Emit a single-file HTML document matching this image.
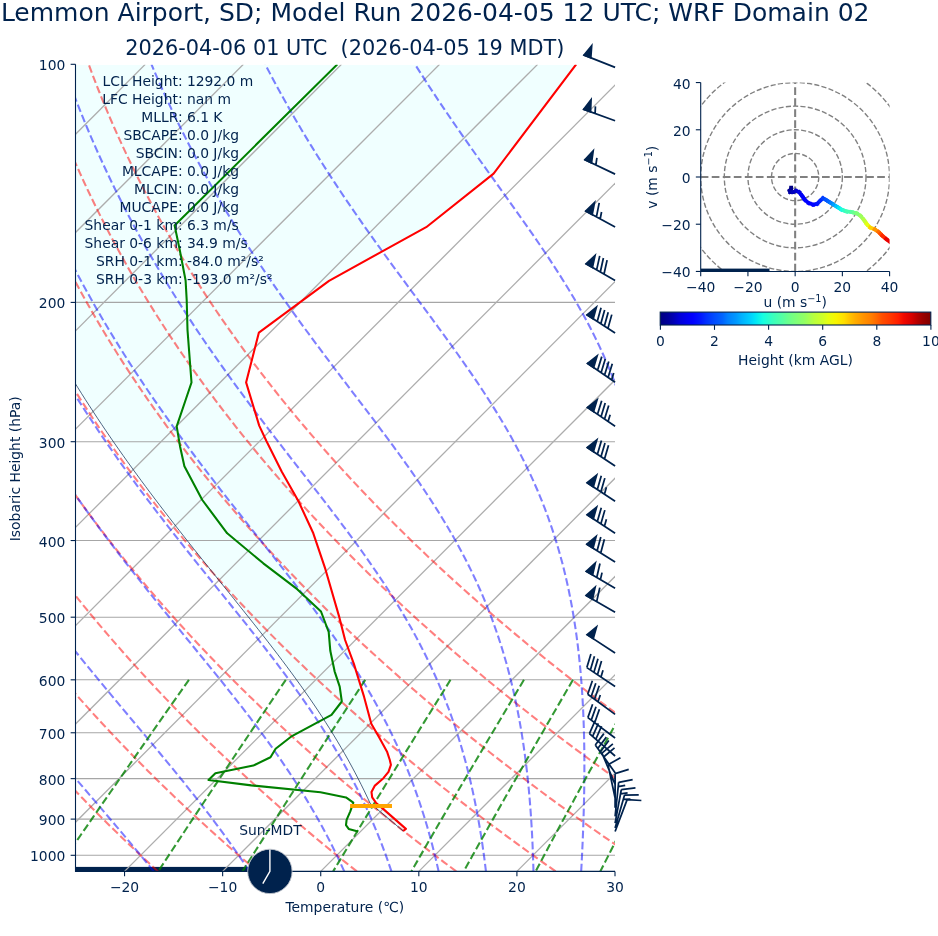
<!DOCTYPE html>
<html lang="en"><head><meta charset="utf-8"><title>Skew-T Lemmon Airport, SD</title><style>html,body{margin:0;padding:0;background:#fff}body{width:938px;height:936px;overflow:hidden}svg{display:block;will-change:transform}</style></head><body>
<svg width="938" height="936" viewBox="0 0 938 936" font-family="'DejaVu Sans', 'Liberation Sans', sans-serif" fill="#00224d">
<rect width="938" height="936" fill="#fff"/>
<defs><clipPath id="ca"><rect x="75.5" y="64.8" width="539.5" height="806.6"/></clipPath>
<clipPath id="cf"><rect x="75.5" y="64.9" width="539.5" height="806.5"/></clipPath>
<clipPath id="ch"><rect x="700.7" y="82.55" width="188.9" height="188.9"/></clipPath>
<linearGradient id="jet" x1="0" x2="1" y1="0" y2="0">
<stop offset="0" stop-color="#000080"/>
<stop offset="0.03" stop-color="#00009b"/>
<stop offset="0.05" stop-color="#0000b6"/>
<stop offset="0.07" stop-color="#0000d6"/>
<stop offset="0.1" stop-color="#0000f1"/>
<stop offset="0.12" stop-color="#0000ff"/>
<stop offset="0.15" stop-color="#0018ff"/>
<stop offset="0.17" stop-color="#0030ff"/>
<stop offset="0.2" stop-color="#004cff"/>
<stop offset="0.23" stop-color="#0064ff"/>
<stop offset="0.25" stop-color="#0080ff"/>
<stop offset="0.28" stop-color="#0098ff"/>
<stop offset="0.3" stop-color="#00b0ff"/>
<stop offset="0.33" stop-color="#00ccff"/>
<stop offset="0.35" stop-color="#00e4f8"/>
<stop offset="0.38" stop-color="#16ffe1"/>
<stop offset="0.4" stop-color="#29ffce"/>
<stop offset="0.42" stop-color="#3cffba"/>
<stop offset="0.45" stop-color="#53ffa4"/>
<stop offset="0.47" stop-color="#66ff90"/>
<stop offset="0.5" stop-color="#7dff7a"/>
<stop offset="0.53" stop-color="#90ff66"/>
<stop offset="0.55" stop-color="#a4ff53"/>
<stop offset="0.57" stop-color="#baff3c"/>
<stop offset="0.6" stop-color="#ceff29"/>
<stop offset="0.62" stop-color="#e4ff13"/>
<stop offset="0.65" stop-color="#f8f500"/>
<stop offset="0.68" stop-color="#ffde00"/>
<stop offset="0.7" stop-color="#ffc400"/>
<stop offset="0.72" stop-color="#ffae00"/>
<stop offset="0.75" stop-color="#ff9400"/>
<stop offset="0.78" stop-color="#ff7e00"/>
<stop offset="0.8" stop-color="#ff6800"/>
<stop offset="0.82" stop-color="#ff4e00"/>
<stop offset="0.85" stop-color="#ff3800"/>
<stop offset="0.88" stop-color="#ff1e00"/>
<stop offset="0.9" stop-color="#f10800"/>
<stop offset="0.93" stop-color="#d60000"/>
<stop offset="0.95" stop-color="#b60000"/>
<stop offset="0.97" stop-color="#9b0000"/>
<stop offset="1" stop-color="#800000"/>
</linearGradient></defs>
<g clip-path="url(#ca)" fill="none">
<path clip-path="url(#cf)" d="M403.2 831L370.1 803.3L367.22 797.09L364.25 790.88L361.2 784.67L358.06 778.46L354.83 772.25L351.51 766.04L348.1 759.83L344.6 753.62L341.01 747.41L337.34 741.2L333.58 734.99L329.73 728.78L325.79 722.57L321.78 716.36L317.68 710.15L313.5 703.94L309.24 697.73L304.91 691.52L300.51 685.31L296.03 679.1L291.5 672.89L286.9 666.68L282.25 660.47L277.54 654.26L272.78 648.05L267.98 641.84L263.14 635.63L258.26 629.42L253.36 623.21L248.42 617L243.46 610.79L238.49 604.58L233.5 598.37L228.51 592.16L223.51 585.95L218.5 579.74L213.51 573.53L208.52 567.32L203.54 561.11L198.57 554.9L193.62 548.69L188.69 542.48L183.79 536.27L178.91 530.06L174.06 523.85L169.24 517.64L164.45 511.43L159.69 505.22L154.98 499.01L150.3 492.8L145.66 486.59L141.06 480.38L136.51 474.17L131.99 467.96L127.53 461.75L123.1 455.54L118.72 449.33L114.39 443.12L110.11 436.91L105.87 430.69L101.68 424.48L97.54 418.27L93.45 412.06L89.41 405.85L85.42 399.64L81.47 393.43L77.58 387.22L73.73 381.01L69.94 374.8L66.19 368.59L62.5 362.38L58.85 356.17L55.25 349.96L51.7 343.75L48.2 337.54L44.75 331.33L41.35 325.12L38 318.91L34.69 312.7L31.44 306.49L28.23 300.28L25.07 294.07L21.96 287.86L18.89 281.65L15.88 275.44L12.91 269.23L9.99 263.02L7.11 256.81L4.28 250.6L1.5 244.39L-1.24 238.18L-3.93 231.97L-6.57 225.76L-9.17 219.55L-11.73 213.34L-14.24 207.13L-16.7 200.92L-19.12 194.71L-21.5 188.5L-23.83 182.29L-26.12 176.08L-28.36 169.87L-30.56 163.66L-32.72 157.45L-34.83 151.24L-36.9 145.03L-38.93 138.82L-40.92 132.61L-42.86 126.4L-44.76 120.19L-46.62 113.98L-48.44 107.77L-50.22 101.56L-51.95 95.35L-53.65 89.14L-55.31 82.93L-56.92 76.72L-58.49 70.51L-60.03 64.3L-65.03 59.3L579.7 59.3L576.2 64.3L493.6 173.6L426.2 227.2L380 252.6L329 280.9L258.9 332.6L246.1 382.4L259.2 425.6L266.4 441L281.8 471.8L298.5 501.3L313.3 533.3L325.4 569.2L339.5 617.9L345.1 640L353.8 663.6L364.1 696.9L371.3 723.8L379.5 737.9L387.2 752.1L389.8 760L390.9 764.8L388.5 771.8L383.4 778.2L374.9 785.6L371.5 792.1L372.2 797.4L375.9 802.7L383.4 809.1L405.9 828.9L403.2 831Z" fill="#f0ffff" stroke="none"/>
<rect x="75.5" y="866.9" width="194.5" height="6" fill="#00224d"/>
<path d="M75.5 302.41H615" stroke="#a6a6a6" stroke-width="1.1"/>
<path d="M75.5 441.7H615" stroke="#a6a6a6" stroke-width="1.1"/>
<path d="M75.5 540.53H615" stroke="#a6a6a6" stroke-width="1.1"/>
<path d="M75.5 617.19H615" stroke="#a6a6a6" stroke-width="1.1"/>
<path d="M75.5 679.82H615" stroke="#a6a6a6" stroke-width="1.1"/>
<path d="M75.5 732.77H615" stroke="#a6a6a6" stroke-width="1.1"/>
<path d="M75.5 778.64H615" stroke="#a6a6a6" stroke-width="1.1"/>
<path d="M75.5 819.11H615" stroke="#a6a6a6" stroke-width="1.1"/>
<path d="M75.5 855.3H615" stroke="#a6a6a6" stroke-width="1.1"/>
<path d="M-954.45 871.4L-148.97 64.3" stroke="#adadad" stroke-width="1.3"/>
<path d="M-856.36 871.4L-50.88 64.3" stroke="#adadad" stroke-width="1.3"/>
<path d="M-758.27 871.4L47.21 64.3" stroke="#adadad" stroke-width="1.3"/>
<path d="M-660.18 871.4L145.3 64.3" stroke="#adadad" stroke-width="1.3"/>
<path d="M-562.09 871.4L243.39 64.3" stroke="#adadad" stroke-width="1.3"/>
<path d="M-464 871.4L341.49 64.3" stroke="#adadad" stroke-width="1.3"/>
<path d="M-365.91 871.4L439.58 64.3" stroke="#adadad" stroke-width="1.3"/>
<path d="M-267.82 871.4L537.67 64.3" stroke="#adadad" stroke-width="1.3"/>
<path d="M-169.73 871.4L635.76 64.3" stroke="#adadad" stroke-width="1.3"/>
<path d="M-71.64 871.4L733.85 64.3" stroke="#adadad" stroke-width="1.3"/>
<path d="M26.45 871.4L831.94 64.3" stroke="#adadad" stroke-width="1.3"/>
<path d="M124.55 871.4L930.03 64.3" stroke="#adadad" stroke-width="1.3"/>
<path d="M222.64 871.4L1028.12 64.3" stroke="#adadad" stroke-width="1.3"/>
<path d="M320.73 871.4L1126.21 64.3" stroke="#adadad" stroke-width="1.3"/>
<path d="M418.82 871.4L1224.3 64.3" stroke="#adadad" stroke-width="1.3"/>
<path d="M516.91 871.4L1322.39 64.3" stroke="#adadad" stroke-width="1.3"/>
<path d="M615 871.4L1420.49 64.3" stroke="#adadad" stroke-width="1.3"/>
<path d="M-40.81 871.4L-49.17 862.33L-57.41 853.26L-65.51 844.19L-73.49 835.13L-81.34 826.06L-89.06 816.99L-96.65 807.92L-104.12 798.85L-111.47 789.78L-118.69 780.71L-125.79 771.65L-132.77 762.58L-139.63 753.51L-146.37 744.44L-152.99 735.37L-159.49 726.3L-165.88 717.23L-172.15 708.17L-178.3 699.1L-184.34 690.03L-190.27 680.96L-196.08 671.89L-201.79 662.82L-207.38 653.76L-212.86 644.69L-218.23 635.62L-223.5 626.55L-228.65 617.48L-233.7 608.41L-238.65 599.34L-243.49 590.28L-248.22 581.21L-252.85 572.14L-257.38 563.07L-261.81 554L-266.13 544.93L-270.36 535.86L-274.48 526.8L-278.51 517.73L-282.43 508.66L-286.26 499.59L-290 490.52L-293.63 481.45L-297.18 472.38L-300.62 463.32L-303.98 454.25L-307.24 445.18L-310.4 436.11L-313.48 427.04L-316.46 417.97L-319.36 408.9L-322.16 399.84L-324.88 390.77L-327.51 381.7L-330.04 372.63L-332.5 363.56L-334.86 354.49L-337.14 345.42L-339.34 336.36L-341.45 327.29L-343.47 318.22L-345.42 309.15L-347.28 300.08L-349.06 291.01L-350.75 281.94L-352.37 272.88L-353.91 263.81L-355.36 254.74L-356.74 245.67L-358.04 236.6L-359.26 227.53L-360.41 218.47L-361.47 209.4L-362.47 200.33L-363.38 191.26L-364.22 182.19L-364.99 173.12L-365.68 164.05L-366.3 154.99L-366.85 145.92L-367.33 136.85L-367.73 127.78L-368.06 118.71L-368.33 109.64L-368.52 100.57L-368.64 91.51L-368.7 82.44L-368.68 73.37L-368.6 64.3M58.61 871.4L49.49 862.33L40.52 853.26L31.68 844.19L22.97 835.13L14.4 826.06L5.96 816.99L-2.35 807.92L-10.53 798.85L-18.58 789.78L-26.5 780.71L-34.29 771.65L-41.96 762.58L-49.5 753.51L-56.92 744.44L-64.21 735.37L-71.38 726.3L-78.43 717.23L-85.35 708.17L-92.16 699.1L-98.85 690.03L-105.42 680.96L-111.87 671.89L-118.21 662.82L-124.43 653.76L-130.53 644.69L-136.52 635.62L-142.4 626.55L-148.17 617.48L-153.82 608.41L-159.37 599.34L-164.8 590.28L-170.13 581.21L-175.34 572.14L-180.46 563.07L-185.46 554L-190.36 544.93L-195.15 535.86L-199.84 526.8L-204.43 517.73L-208.91 508.66L-213.29 499.59L-217.58 490.52L-221.76 481.45L-225.84 472.38L-229.82 463.32L-233.71 454.25L-237.5 445.18L-241.19 436.11L-244.78 427.04L-248.28 417.97L-251.69 408.9L-255 399.84L-258.22 390.77L-261.35 381.7L-264.39 372.63L-267.33 363.56L-270.19 354.49L-272.95 345.42L-275.63 336.36L-278.22 327.29L-280.72 318.22L-283.14 309.15L-285.46 300.08L-287.71 291.01L-289.87 281.94L-291.94 272.88L-293.93 263.81L-295.84 254.74L-297.66 245.67L-299.41 236.6L-301.07 227.53L-302.65 218.47L-304.15 209.4L-305.57 200.33L-306.92 191.26L-308.18 182.19L-309.37 173.12L-310.48 164.05L-311.52 154.99L-312.48 145.92L-313.36 136.85L-314.17 127.78L-314.91 118.71L-315.57 109.64L-316.16 100.57L-316.67 91.51L-317.12 82.44L-317.49 73.37L-317.79 64.3M158.02 871.4L148.16 862.33L138.44 853.26L128.87 844.19L119.43 835.13L110.13 826.06L100.97 816.99L91.95 807.92L83.06 798.85L74.31 789.78L65.69 780.71L57.2 771.65L48.85 762.58L40.63 753.51L32.53 744.44L24.57 735.37L16.73 726.3L9.02 717.23L1.44 708.17L-6.02 699.1L-13.36 690.03L-20.57 680.96L-27.66 671.89L-34.63 662.82L-41.47 653.76L-48.2 644.69L-54.81 635.62L-61.3 626.55L-67.68 617.48L-73.94 608.41L-80.08 599.34L-86.11 590.28L-92.03 581.21L-97.84 572.14L-103.53 563.07L-109.11 554L-114.58 544.93L-119.95 535.86L-125.2 526.8L-130.35 517.73L-135.39 508.66L-140.32 499.59L-145.15 490.52L-149.88 481.45L-154.5 472.38L-159.02 463.32L-163.44 454.25L-167.75 445.18L-171.97 436.11L-176.09 427.04L-180.1 417.97L-184.02 408.9L-187.84 399.84L-191.57 390.77L-195.2 381.7L-198.73 372.63L-202.17 363.56L-205.51 354.49L-208.76 345.42L-211.92 336.36L-214.99 327.29L-217.97 318.22L-220.85 309.15L-223.65 300.08L-226.36 291.01L-228.98 281.94L-231.51 272.88L-233.95 263.81L-236.31 254.74L-238.58 245.67L-240.77 236.6L-242.87 227.53L-244.89 218.47L-246.83 209.4L-248.68 200.33L-250.45 191.26L-252.14 182.19L-253.75 173.12L-255.28 164.05L-256.73 154.99L-258.1 145.92L-259.4 136.85L-260.61 127.78L-261.75 118.71L-262.81 109.64L-263.79 100.57L-264.7 91.51L-265.54 82.44L-266.3 73.37L-266.99 64.3M257.43 871.4L246.83 862.33L236.37 853.26L226.06 844.19L215.89 835.13L205.87 826.06L195.99 816.99L186.25 807.92L176.65 798.85L167.2 789.78L157.88 780.71L148.7 771.65L139.66 762.58L130.76 753.51L121.99 744.44L113.35 735.37L104.84 726.3L96.47 717.23L88.23 708.17L80.12 699.1L72.14 690.03L64.28 680.96L56.56 671.89L48.96 662.82L41.48 653.76L34.13 644.69L26.9 635.62L19.79 626.55L12.81 617.48L5.94 608.41L-0.8 599.34L-7.43 590.28L-13.94 581.21L-20.33 572.14L-26.6 563.07L-32.76 554L-38.81 544.93L-44.74 535.86L-50.56 526.8L-56.27 517.73L-61.87 508.66L-67.35 499.59L-72.73 490.52L-78 481.45L-83.16 472.38L-88.22 463.32L-93.17 454.25L-98.01 445.18L-102.75 436.11L-107.39 427.04L-111.92 417.97L-116.35 408.9L-120.68 399.84L-124.91 390.77L-129.04 381.7L-133.07 372.63L-137 363.56L-140.84 354.49L-144.58 345.42L-148.22 336.36L-151.76 327.29L-155.22 318.22L-158.57 309.15L-161.84 300.08L-165.01 291.01L-168.09 281.94L-171.08 272.88L-173.98 263.81L-176.79 254.74L-179.51 245.67L-182.14 236.6L-184.68 227.53L-187.14 218.47L-189.51 209.4L-191.79 200.33L-193.99 191.26L-196.1 182.19L-198.13 173.12L-200.08 164.05L-201.95 154.99L-203.73 145.92L-205.43 136.85L-207.05 127.78L-208.59 118.71L-210.05 109.64L-211.43 100.57L-212.74 91.51L-213.96 82.44L-215.11 73.37L-216.18 64.3M356.85 871.4L345.49 862.33L334.29 853.26L323.24 844.19L312.35 835.13L301.6 826.06L291 816.99L280.55 807.92L270.25 798.85L260.09 789.78L250.07 780.71L240.2 771.65L230.47 762.58L220.88 753.51L211.44 744.44L202.13 735.37L192.96 726.3L183.92 717.23L175.02 708.17L166.26 699.1L157.63 690.03L149.13 680.96L140.77 671.89L132.54 662.82L124.43 653.76L116.46 644.69L108.61 635.62L100.89 626.55L93.29 617.48L85.83 608.41L78.48 599.34L71.26 590.28L64.16 581.21L57.18 572.14L50.32 563.07L43.58 554L36.96 544.93L30.46 535.86L24.08 526.8L17.81 517.73L11.66 508.66L5.62 499.59L-0.31 490.52L-6.12 481.45L-11.83 472.38L-17.42 463.32L-22.9 454.25L-28.27 445.18L-33.53 436.11L-38.69 427.04L-43.74 417.97L-48.68 408.9L-53.52 399.84L-58.26 390.77L-62.89 381.7L-67.41 372.63L-71.84 363.56L-76.16 354.49L-80.39 345.42L-84.51 336.36L-88.54 327.29L-92.46 318.22L-96.29 309.15L-100.02 300.08L-103.66 291.01L-107.2 281.94L-110.65 272.88L-114 263.81L-117.26 254.74L-120.43 245.67L-123.5 236.6L-126.49 227.53L-129.38 218.47L-132.18 209.4L-134.9 200.33L-137.53 191.26L-140.06 182.19L-142.52 173.12L-144.88 164.05L-147.16 154.99L-149.35 145.92L-151.46 136.85L-153.49 127.78L-155.43 118.71L-157.29 109.64L-159.07 100.57L-160.77 91.51L-162.38 82.44L-163.92 73.37L-165.37 64.3M456.26 871.4L444.16 862.33L432.22 853.26L420.43 844.19L408.81 835.13L397.33 826.06L386.02 816.99L374.85 807.92L363.84 798.85L352.98 789.78L342.26 780.71L331.7 771.65L321.28 762.58L311.01 753.51L300.89 744.44L290.91 735.37L281.07 726.3L271.37 717.23L261.82 708.17L252.4 699.1L243.12 690.03L233.99 680.96L224.98 671.89L216.12 662.82L207.38 653.76L198.79 644.69L190.32 635.62L181.99 626.55L173.78 617.48L165.71 608.41L157.76 599.34L149.95 590.28L142.25 581.21L134.69 572.14L127.25 563.07L119.93 554L112.74 544.93L105.67 535.86L98.72 526.8L91.89 517.73L85.18 508.66L78.59 499.59L72.11 490.52L65.75 481.45L59.51 472.38L53.38 463.32L47.37 454.25L41.47 445.18L35.68 436.11L30.01 427.04L24.44 417.97L18.98 408.9L13.64 399.84L8.4 390.77L3.27 381.7L-1.76 372.63L-6.67 363.56L-11.49 354.49L-16.2 345.42L-20.8 336.36L-25.31 327.29L-29.71 318.22L-34.01 309.15L-38.21 300.08L-42.31 291.01L-46.31 281.94L-50.22 272.88L-54.03 263.81L-57.74 254.74L-61.35 245.67L-64.87 236.6L-68.29 227.53L-71.62 218.47L-74.86 209.4L-78.01 200.33L-81.06 191.26L-84.02 182.19L-86.9 173.12L-89.68 164.05L-92.37 154.99L-94.98 145.92L-97.5 136.85L-99.93 127.78L-102.27 118.71L-104.53 109.64L-106.71 100.57L-108.8 91.51L-110.8 82.44L-112.73 73.37L-114.57 64.3M555.67 871.4L542.83 862.33L530.14 853.26L517.62 844.19L505.26 835.13L493.07 826.06L481.03 816.99L469.15 807.92L457.43 798.85L445.86 789.78L434.45 780.71L423.2 771.65L412.09 762.58L401.14 753.51L390.34 744.44L379.69 735.37L369.18 726.3L358.82 717.23L348.61 708.17L338.54 699.1L328.62 690.03L318.84 680.96L309.2 671.89L299.7 662.82L290.34 653.76L281.11 644.69L272.03 635.62L263.08 626.55L254.27 617.48L245.59 608.41L237.04 599.34L228.63 590.28L220.35 581.21L212.2 572.14L204.17 563.07L196.28 554L188.51 544.93L180.87 535.86L173.36 526.8L165.97 517.73L158.7 508.66L151.56 499.59L144.53 490.52L137.63 481.45L130.85 472.38L124.18 463.32L117.64 454.25L111.21 445.18L104.9 436.11L98.7 427.04L92.62 417.97L86.65 408.9L80.8 399.84L75.06 390.77L69.42 381.7L63.9 372.63L58.49 363.56L53.19 354.49L47.99 345.42L42.9 336.36L37.92 327.29L33.04 318.22L28.27 309.15L23.6 300.08L19.04 291.01L14.57 281.94L10.21 272.88L5.95 263.81L1.79 254.74L-2.27 245.67L-6.23 236.6L-10.1 227.53L-13.87 218.47L-17.54 209.4L-21.12 200.33L-24.6 191.26L-27.98 182.19L-31.28 173.12L-34.48 164.05L-37.59 154.99L-40.6 145.92L-43.53 136.85L-46.37 127.78L-49.12 118.71L-51.77 109.64L-54.35 100.57L-56.83 91.51L-59.23 82.44L-61.54 73.37L-63.76 64.3M655.09 871.4L641.49 862.33L628.07 853.26L614.81 844.19L601.72 835.13L588.8 826.06L576.05 816.99L563.45 807.92L551.02 798.85L538.75 789.78L526.65 780.71L514.7 771.65L502.9 762.58L491.27 753.51L479.79 744.44L468.46 735.37L457.29 726.3L446.27 717.23L435.4 708.17L424.68 699.1L414.11 690.03L403.69 680.96L393.41 671.89L383.28 662.82L373.29 653.76L363.44 644.69L353.74 635.62L344.18 626.55L334.76 617.48L325.47 608.41L316.33 599.34L307.32 590.28L298.44 581.21L289.71 572.14L281.1 563.07L272.63 554L264.29 544.93L256.08 535.86L248 526.8L240.05 517.73L232.22 508.66L224.53 499.59L216.95 490.52L209.51 481.45L202.19 472.38L194.99 463.32L187.91 454.25L180.95 445.18L174.12 436.11L167.4 427.04L160.8 417.97L154.32 408.9L147.96 399.84L141.71 390.77L135.58 381.7L129.56 372.63L123.65 363.56L117.86 354.49L112.18 345.42L106.61 336.36L101.15 327.29L95.79 318.22L90.55 309.15L85.41 300.08L80.38 291.01L75.46 281.94L70.64 272.88L65.93 263.81L61.32 254.74L56.81 245.67L52.4 236.6L48.09 227.53L43.89 218.47L39.78 209.4L35.78 200.33L31.87 191.26L28.06 182.19L24.34 173.12L20.72 164.05L17.2 154.99L13.77 145.92L10.43 136.85L7.19 127.78L4.04 118.71L0.98 109.64L-1.98 100.57L-4.86 91.51L-7.65 82.44L-10.35 73.37L-12.96 64.3M754.5 871.4L740.16 862.33L725.99 853.26L712 844.19L698.18 835.13L684.54 826.06L671.06 816.99L657.75 807.92L644.61 798.85L631.64 789.78L618.84 780.71L606.19 771.65L593.71 762.58L581.4 753.51L569.24 744.44L557.24 735.37L545.4 726.3L533.72 717.23L522.19 708.17L510.82 699.1L499.6 690.03L488.54 680.96L477.62 671.89L466.86 662.82L456.24 653.76L445.77 644.69L435.45 635.62L425.28 626.55L415.24 617.48L405.36 608.41L395.61 599.34L386 590.28L376.54 581.21L367.21 572.14L358.03 563.07L348.98 554L340.06 544.93L331.28 535.86L322.64 526.8L314.13 517.73L305.74 508.66L297.5 499.59L289.38 490.52L281.39 481.45L273.52 472.38L265.79 463.32L258.18 454.25L250.69 445.18L243.33 436.11L236.1 427.04L228.98 417.97L221.99 408.9L215.12 399.84L208.37 390.77L201.73 381.7L195.22 372.63L188.82 363.56L182.54 354.49L176.37 345.42L170.31 336.36L164.37 327.29L158.55 318.22L152.83 309.15L147.23 300.08L141.73 291.01L136.35 281.94L131.07 272.88L125.9 263.81L120.84 254.74L115.89 245.67L111.03 236.6L106.29 227.53L101.65 218.47L97.11 209.4L92.67 200.33L88.33 191.26L84.1 182.19L79.96 173.12L75.92 164.05L71.99 154.99L68.14 145.92L64.4 136.85L60.75 127.78L57.2 118.71L53.74 109.64L50.38 100.57L47.11 91.51L43.93 82.44L40.84 73.37L37.85 64.3M853.91 871.4L838.82 862.33L823.92 853.26L809.19 844.19L794.64 835.13L780.27 826.06L766.07 816.99L752.05 807.92L738.21 798.85L724.53 789.78L711.03 780.71L697.69 771.65L684.53 762.58L671.53 753.51L658.69 744.44L646.02 735.37L633.52 726.3L621.17 717.23L608.99 708.17L596.96 699.1L585.1 690.03L573.39 680.96L561.84 671.89L550.44 662.82L539.19 653.76L528.1 644.69L517.16 635.62L506.37 626.55L495.73 617.48L485.24 608.41L474.89 599.34L464.69 590.28L454.64 581.21L444.72 572.14L434.95 563.07L425.32 554L415.84 544.93L406.49 535.86L397.28 526.8L388.2 517.73L379.27 508.66L370.47 499.59L361.8 490.52L353.26 481.45L344.86 472.38L336.59 463.32L328.45 454.25L320.44 445.18L312.55 436.11L304.8 427.04L297.16 417.97L289.66 408.9L282.28 399.84L275.02 390.77L267.89 381.7L260.87 372.63L253.98 363.56L247.21 354.49L240.56 345.42L234.02 336.36L227.6 327.29L221.3 318.22L215.11 309.15L209.04 300.08L203.08 291.01L197.24 281.94L191.5 272.88L185.88 263.81L180.37 254.74L174.96 245.67L169.67 236.6L164.48 227.53L159.4 218.47L154.43 209.4L149.56 200.33L144.8 191.26L140.14 182.19L135.58 173.12L131.12 164.05L126.77 154.99L122.52 145.92L118.37 136.85L114.31 127.78L110.36 118.71L106.5 109.64L102.74 100.57L99.08 91.51L95.51 82.44L92.03 73.37L88.66 64.3" stroke="#ff0000" stroke-opacity="0.5" stroke-dasharray="7.7 3.33" stroke-width="2.08"/>
<path d="M-41.65 871.4L-49.51 862.33L-57.31 853.26L-65.05 844.19L-72.7 835.13L-80.27 826.06L-87.76 816.99L-95.16 807.92L-102.46 798.85L-109.66 789.78L-116.77 780.71L-123.77 771.65L-130.67 762.58L-137.46 753.51L-144.15 744.44L-150.73 735.37L-157.2 726.3L-163.56 717.23L-169.82 708.17L-175.96 699.1L-181.99 690.03L-187.92 680.96L-193.73 671.89L-199.44 662.82L-205.04 653.76L-210.53 644.69L-215.91 635.62L-221.19 626.55L-226.36 617.48L-231.42 608.41L-236.38 599.34L-241.23 590.28L-245.98 581.21L-250.63 572.14L-255.17 563.07L-259.61 554L-263.95 544.93L-268.19 535.86L-272.33 526.8L-276.37 517.73L-280.32 508.66L-284.16 499.59L-287.91 490.52L-291.56 481.45L-295.12 472.38L-298.58 463.32L-301.95 454.25L-305.23 445.18L-308.41 436.11L-311.5 427.04L-314.5 417.97L-317.41 408.9L-320.23 399.84L-322.96 390.77L-325.6 381.7L-328.15 372.63L-330.62 363.56L-333 354.49L-335.29 345.42L-337.5 336.36L-339.62 327.29L-341.66 318.22L-343.62 309.15L-345.5 300.08L-347.29 291.01L-349 281.94L-350.63 272.88L-352.18 263.81L-353.65 254.74L-355.04 245.67L-356.35 236.6L-357.58 227.53L-358.74 218.47L-359.82 209.4L-360.83 200.33L-361.75 191.26L-362.61 182.19L-363.39 173.12L-364.09 164.05L-364.73 154.99L-365.28 145.92L-365.77 136.85L-366.19 127.78L-366.53 118.71L-366.81 109.64L-367.01 100.57L-367.14 91.51L-367.21 82.44L-367.21 73.37L-367.13 64.3M56.57 871.4L48.66 862.33L40.74 853.26L32.84 844.19L24.95 835.13L17.09 826.06L9.27 816.99L1.49 807.92L-6.23 798.85L-13.89 789.78L-21.48 780.71L-28.99 771.65L-36.42 762.58L-43.77 753.51L-51.02 744.44L-58.19 735.37L-65.25 726.3L-72.22 717.23L-79.09 708.17L-85.85 699.1L-92.51 690.03L-99.06 680.96L-105.5 671.89L-111.84 662.82L-118.07 653.76L-124.19 644.69L-130.2 635.62L-136.11 626.55L-141.9 617.48L-147.59 608.41L-153.17 599.34L-158.64 590.28L-164 581.21L-169.26 572.14L-174.41 563.07L-179.45 554L-184.39 544.93L-189.23 535.86L-193.96 526.8L-198.59 517.73L-203.11 508.66L-207.54 499.59L-211.86 490.52L-216.09 481.45L-220.21 472.38L-224.23 463.32L-228.16 454.25L-231.99 445.18L-235.72 436.11L-239.36 427.04L-242.9 417.97L-246.35 408.9L-249.7 399.84L-252.96 390.77L-256.13 381.7L-259.2 372.63L-262.19 363.56L-265.08 354.49L-267.89 345.42L-270.6 336.36L-273.23 327.29L-275.77 318.22L-278.22 309.15L-280.58 300.08L-282.86 291.01L-285.06 281.94L-287.17 272.88L-289.19 263.81L-291.14 254.74L-293 245.67L-294.78 236.6L-296.47 227.53L-298.09 218.47L-299.63 209.4L-301.08 200.33L-302.46 191.26L-303.76 182.19L-304.98 173.12L-306.12 164.05L-307.19 154.99L-308.18 145.92L-309.1 136.85L-309.94 127.78L-310.71 118.71L-311.4 109.64L-312.02 100.57L-312.57 91.51L-313.04 82.44L-313.45 73.37L-313.78 64.3M153.71 871.4L146.37 862.33L138.93 853.26L131.41 844.19L123.82 835.13L116.17 826.06L108.47 816.99L100.73 807.92L92.98 798.85L85.22 789.78L77.46 780.71L69.72 771.65L62 762.58L54.32 753.51L46.68 744.44L39.1 735.37L31.58 726.3L24.12 717.23L16.74 708.17L9.44 699.1L2.22 690.03L-4.9 680.96L-11.94 671.89L-18.88 662.82L-25.72 653.76L-32.46 644.69L-39.1 635.62L-45.64 626.55L-52.07 617.48L-58.39 608.41L-64.61 599.34L-70.71 590.28L-76.72 581.21L-82.61 572.14L-88.4 563.07L-94.07 554L-99.64 544.93L-105.11 535.86L-110.46 526.8L-115.71 517.73L-120.86 508.66L-125.9 499.59L-130.83 490.52L-135.66 481.45L-140.38 472.38L-145.01 463.32L-149.53 454.25L-153.95 445.18L-158.27 436.11L-162.48 427.04L-166.6 417.97L-170.62 408.9L-174.54 399.84L-178.37 390.77L-182.09 381.7L-185.73 372.63L-189.26 363.56L-192.7 354.49L-196.05 345.42L-199.31 336.36L-202.47 327.29L-205.54 318.22L-208.52 309.15L-211.41 300.08L-214.21 291.01L-216.92 281.94L-219.54 272.88L-222.07 263.81L-224.52 254.74L-226.88 245.67L-229.16 236.6L-231.35 227.53L-233.45 218.47L-235.48 209.4L-237.41 200.33L-239.27 191.26L-241.04 182.19L-242.74 173.12L-244.35 164.05L-245.88 154.99L-247.33 145.92L-248.71 136.85L-250 127.78L-251.22 118.71L-252.36 109.64L-253.42 100.57L-254.41 91.51L-255.32 82.44L-256.16 73.37L-256.92 64.3M249.52 871.4L243.49 862.33L237.3 853.26L230.93 844.19L224.41 835.13L217.74 826.06L210.92 816.99L203.97 807.92L196.9 798.85L189.71 789.78L182.43 780.71L175.06 771.65L167.62 762.58L160.13 753.51L152.58 744.44L145.01 735.37L137.41 726.3L129.81 717.23L122.22 708.17L114.64 699.1L107.09 690.03L99.57 680.96L92.11 671.89L84.69 662.82L77.34 653.76L70.06 644.69L62.86 635.62L55.73 626.55L48.7 617.48L41.75 608.41L34.89 599.34L28.13 590.28L21.47 581.21L14.9 572.14L8.44 563.07L2.09 554L-4.16 544.93L-10.31 535.86L-16.35 526.8L-22.28 517.73L-28.1 508.66L-33.82 499.59L-39.43 490.52L-44.94 481.45L-50.33 472.38L-55.63 463.32L-60.81 454.25L-65.89 445.18L-70.87 436.11L-75.74 427.04L-80.5 417.97L-85.17 408.9L-89.73 399.84L-94.19 390.77L-98.55 381.7L-102.81 372.63L-106.97 363.56L-111.02 354.49L-114.99 345.42L-118.85 336.36L-122.62 327.29L-126.29 318.22L-129.86 309.15L-133.34 300.08L-136.73 291.01L-140.02 281.94L-143.22 272.88L-146.33 263.81L-149.34 254.74L-152.27 245.67L-155.11 236.6L-157.85 227.53L-160.51 218.47L-163.08 209.4L-165.56 200.33L-167.96 191.26L-170.27 182.19L-172.49 173.12L-174.63 164.05L-176.69 154.99L-178.66 145.92L-180.55 136.85L-182.36 127.78L-184.08 118.71L-185.73 109.64L-187.29 100.57L-188.78 91.51L-190.18 82.44L-191.51 73.37L-192.76 64.3M344.25 871.4L340.12 862.33L335.81 853.26L331.33 844.19L326.66 835.13L321.8 826.06L316.76 816.99L311.53 807.92L306.12 798.85L300.52 789.78L294.74 780.71L288.79 771.65L282.66 762.58L276.36 753.51L269.91 744.44L263.31 735.37L256.57 726.3L249.7 717.23L242.72 708.17L235.64 699.1L228.47 690.03L221.22 680.96L213.91 671.89L206.55 662.82L199.16 653.76L191.75 644.69L184.33 635.62L176.92 626.55L169.52 617.48L162.14 608.41L154.81 599.34L147.52 590.28L140.29 581.21L133.12 572.14L126.01 563.07L118.99 554L112.04 544.93L105.18 535.86L98.41 526.8L91.73 517.73L85.14 508.66L78.66 499.59L72.27 490.52L65.99 481.45L59.8 472.38L53.73 463.32L47.76 454.25L41.89 445.18L36.13 436.11L30.47 427.04L24.93 417.97L19.48 408.9L14.15 399.84L8.92 390.77L3.79 381.7L-1.23 372.63L-6.15 363.56L-10.96 354.49L-15.67 345.42L-20.28 336.36L-24.78 327.29L-29.18 318.22L-33.49 309.15L-37.69 300.08L-41.79 291.01L-45.8 281.94L-49.71 272.88L-53.52 263.81L-57.23 254.74L-60.85 245.67L-64.37 236.6L-67.8 227.53L-71.13 218.47L-74.37 209.4L-77.52 200.33L-80.58 191.26L-83.55 182.19L-86.42 173.12L-89.21 164.05L-91.91 154.99L-94.52 145.92L-97.04 136.85L-99.47 127.78L-101.82 118.71L-104.08 109.64L-106.26 100.57L-108.36 91.51L-110.37 82.44L-112.29 73.37L-114.14 64.3M391.43 871.4L388.34 862.33L385.1 853.26L381.7 844.19L378.13 835.13L374.39 826.06L370.48 816.99L366.39 807.92L362.12 798.85L357.67 789.78L353.03 780.71L348.19 771.65L343.17 762.58L337.96 753.51L332.56 744.44L326.98 735.37L321.21 726.3L315.27 717.23L309.16 708.17L302.88 699.1L296.45 690.03L289.87 680.96L283.16 671.89L276.33 662.82L269.39 653.76L262.36 644.69L255.24 635.62L248.06 626.55L240.82 617.48L233.55 608.41L226.24 599.34L218.93 590.28L211.62 581.21L204.32 572.14L197.04 563.07L189.79 554L182.59 544.93L175.45 535.86L168.36 526.8L161.34 517.73L154.39 508.66L147.52 499.59L140.74 490.52L134.04 481.45L127.43 472.38L120.92 463.32L114.51 454.25L108.19 445.18L101.98 436.11L95.87 427.04L89.86 417.97L83.96 408.9L78.16 399.84L72.47 390.77L66.88 381.7L61.4 372.63L56.02 363.56L50.75 354.49L45.59 345.42L40.52 336.36L35.57 327.29L30.71 318.22L25.96 309.15L21.32 300.08L16.77 291.01L12.33 281.94L7.99 272.88L3.74 263.81L-0.4 254.74L-4.44 245.67L-8.39 236.6L-12.24 227.53L-15.99 218.47L-19.64 209.4L-23.2 200.33L-26.67 191.26L-30.04 182.19L-33.32 173.12L-36.5 164.05L-39.6 154.99L-42.6 145.92L-45.51 136.85L-48.33 127.78L-51.07 118.71L-53.71 109.64L-56.27 100.57L-58.74 91.51L-61.12 82.44L-63.41 73.37L-65.63 64.3M438.64 871.4L436.57 862.33L434.38 853.26L432.07 844.19L429.62 835.13L427.03 826.06L424.3 816.99L421.41 807.92L418.38 798.85L415.18 789.78L411.82 780.71L408.28 771.65L404.57 762.58L400.68 753.51L396.61 744.44L392.35 735.37L387.9 726.3L383.26 717.23L378.42 708.17L373.4 699.1L368.18 690.03L362.77 680.96L357.18 671.89L351.4 662.82L345.45 653.76L339.33 644.69L333.05 635.62L326.63 626.55L320.06 617.48L313.38 608.41L306.57 599.34L299.67 590.28L292.69 581.21L285.63 572.14L278.52 563.07L271.37 554L264.19 544.93L256.99 535.86L249.79 526.8L242.61 517.73L235.45 508.66L228.31 499.59L221.23 490.52L214.19 481.45L207.21 472.38L200.3 463.32L193.46 454.25L186.7 445.18L180.03 436.11L173.44 427.04L166.94 417.97L160.54 408.9L154.23 399.84L148.02 390.77L141.92 381.7L135.91 372.63L130.01 363.56L124.21 354.49L118.52 345.42L112.93 336.36L107.44 327.29L102.06 318.22L96.79 309.15L91.62 300.08L86.55 291.01L81.59 281.94L76.73 272.88L71.98 263.81L67.33 254.74L62.78 245.67L58.33 236.6L53.98 227.53L49.73 218.47L45.58 209.4L41.53 200.33L37.58 191.26L33.73 182.19L29.97 173.12L26.31 164.05L22.75 154.99L19.28 145.92L15.9 136.85L12.62 127.78L9.43 118.71L6.33 109.64L3.32 100.57L0.4 91.51L-2.42 82.44L-5.16 73.37L-7.81 64.3M485.96 871.4L484.85 862.33L483.65 853.26L482.36 844.19L480.97 835.13L479.48 826.06L477.89 816.99L476.18 807.92L474.35 798.85L472.4 789.78L470.33 780.71L468.12 771.65L465.77 762.58L463.28 753.51L460.64 744.44L457.84 735.37L454.88 726.3L451.75 717.23L448.45 708.17L444.98 699.1L441.32 690.03L437.48 680.96L433.45 671.89L429.23 662.82L424.81 653.76L420.19 644.69L415.38 635.62L410.37 626.55L405.17 617.48L399.78 608.41L394.2 599.34L388.44 590.28L382.51 581.21L376.41 572.14L370.16 563.07L363.77 554L357.25 544.93L350.61 535.86L343.86 526.8L337.03 517.73L330.12 508.66L323.16 499.59L316.15 490.52L309.1 481.45L302.05 472.38L294.98 463.32L287.93 454.25L280.9 445.18L273.9 436.11L266.94 427.04L260.03 417.97L253.17 408.9L246.39 399.84L239.68 390.77L233.04 381.7L226.49 372.63L220.02 363.56L213.65 354.49L207.36 345.42L201.18 336.36L195.09 327.29L189.1 318.22L183.22 309.15L177.43 300.08L171.75 291.01L166.17 281.94L160.7 272.88L155.33 263.81L150.07 254.74L144.91 245.67L139.85 236.6L134.9 227.53L130.05 218.47L125.3 209.4L120.66 200.33L116.12 191.26L111.68 182.19L107.34 173.12L103.1 164.05L98.95 154.99L94.91 145.92L90.97 136.85L87.12 127.78L83.37 118.71L79.72 109.64L76.16 100.57L72.7 91.51L69.33 82.44L66.05 73.37L62.87 64.3M533.47 871.4L533.21 862.33L532.9 853.26L532.53 844.19L532.1 835.13L531.59 826.06L531.02 816.99L530.37 807.92L529.65 798.85L528.84 789.78L527.94 780.71L526.96 771.65L525.88 762.58L524.7 753.51L523.41 744.44L522.02 735.37L520.51 726.3L518.88 717.23L517.12 708.17L515.24 699.1L513.21 690.03L511.05 680.96L508.73 671.89L506.27 662.82L503.64 653.76L500.85 644.69L497.88 635.62L494.74 626.55L491.42 617.48L487.91 608.41L484.21 599.34L480.31 590.28L476.22 581.21L471.93 572.14L467.43 563.07L462.74 554L457.85 544.93L452.75 535.86L447.47 526.8L442 517.73L436.34 508.66L430.52 499.59L424.53 490.52L418.38 481.45L412.1 472.38L405.69 463.32L399.16 454.25L392.54 445.18L385.83 436.11L379.05 427.04L372.22 417.97L365.35 408.9L358.45 399.84L351.55 390.77L344.64 381.7L337.76 372.63L330.89 363.56L324.07 354.49L317.29 345.42L310.57 336.36L303.9 327.29L297.31 318.22L290.79 309.15L284.36 300.08L278 291.01L271.74 281.94L265.57 272.88L259.49 263.81L253.51 254.74L247.63 245.67L241.85 236.6L236.17 227.53L230.59 218.47L225.12 209.4L219.75 200.33L214.48 191.26L209.31 182.19L204.25 173.12L199.29 164.05L194.44 154.99L189.68 145.92L185.03 136.85L180.49 127.78L176.04 118.71L171.69 109.64L167.44 100.57L163.3 91.51L159.25 82.44L155.29 73.37L151.44 64.3M581.18 871.4L581.67 862.33L582.12 853.26L582.54 844.19L582.92 835.13L583.27 826.06L583.57 816.99L583.83 807.92L584.04 798.85L584.21 789.78L584.32 780.71L584.38 771.65L584.39 762.58L584.33 753.51L584.21 744.44L584.03 735.37L583.77 726.3L583.44 717.23L583.04 708.17L582.55 699.1L581.98 690.03L581.32 680.96L580.56 671.89L579.71 662.82L578.75 653.76L577.69 644.69L576.51 635.62L575.21 626.55L573.79 617.48L572.24 608.41L570.55 599.34L568.72 590.28L566.74 581.21L564.61 572.14L562.32 563.07L559.86 554L557.24 544.93L554.43 535.86L551.44 526.8L548.26 517.73L544.89 508.66L541.32 499.59L537.55 490.52L533.57 481.45L529.39 472.38L525.01 463.32L520.42 454.25L515.62 445.18L510.63 436.11L505.44 427.04L500.06 417.97L494.5 408.9L488.77 399.84L482.87 390.77L476.83 381.7L470.65 372.63L464.35 363.56L457.95 354.49L451.45 345.42L444.88 336.36L438.25 327.29L431.58 318.22L424.87 309.15L418.15 300.08L411.43 291.01L404.72 281.94L398.04 272.88L391.38 263.81L384.78 254.74L378.22 245.67L371.73 236.6L365.3 227.53L358.95 218.47L352.67 209.4L346.49 200.33L340.38 191.26L334.37 182.19L328.46 173.12L322.63 164.05L316.91 154.99L311.29 145.92L305.76 136.85L300.34 127.78L295.02 118.71L289.8 109.64L284.68 100.57L279.67 91.51L274.76 82.44L269.95 73.37L265.24 64.3M629.12 871.4L630.22 862.33L631.31 853.26L632.39 844.19L633.44 835.13L634.48 826.06L635.51 816.99L636.51 807.92L637.49 798.85L638.45 789.78L639.38 780.71L640.28 771.65L641.16 762.58L642.01 753.51L642.83 744.44L643.61 735.37L644.36 726.3L645.07 717.23L645.74 708.17L646.37 699.1L646.96 690.03L647.49 680.96L647.98 671.89L648.42 662.82L648.8 653.76L649.13 644.69L649.39 635.62L649.59 626.55L649.72 617.48L649.78 608.41L649.77 599.34L649.68 590.28L649.5 581.21L649.24 572.14L648.89 563.07L648.44 554L647.9 544.93L647.24 535.86L646.48 526.8L645.6 517.73L644.6 508.66L643.47 499.59L642.21 490.52L640.81 481.45L639.26 472.38L637.57 463.32L635.71 454.25L633.69 445.18L631.5 436.11L629.13 427.04L626.58 417.97L623.84 408.9L620.91 399.84L617.78 390.77L614.44 381.7L610.89 372.63L607.14 363.56L603.17 354.49L599 345.42L594.61 336.36L590.01 327.29L585.21 318.22L580.2 309.15L575.01 300.08L569.63 291.01L564.08 281.94L558.36 272.88L552.5 263.81L546.5 254.74L540.39 245.67L534.17 236.6L527.86 227.53L521.48 218.47L515.05 209.4L508.58 200.33L502.09 191.26L495.58 182.19L489.08 173.12L482.6 164.05L476.15 154.99L469.73 145.92L463.37 136.85L457.06 127.78L450.81 118.71L444.64 109.64L438.54 100.57L432.52 91.51L426.59 82.44L420.75 73.37L415 64.3" stroke="#0000ff" stroke-opacity="0.5" stroke-dasharray="7.7 3.33" stroke-width="2.08"/>
<path d="M188.93 679.82L182.79 688.55L176.81 697.07L170.97 705.38L165.28 713.49L159.73 721.42L154.31 729.16L149.01 736.74L143.83 744.15L138.77 751.41L133.81 758.52L128.96 765.48L124.21 772.3L119.55 779L114.99 785.56L110.52 792L106.14 798.32L101.83 804.53L97.61 810.63L93.46 816.62L89.39 822.51L85.39 828.3L81.45 833.99L77.59 839.59L73.79 845.1L70.05 850.52L66.38 855.86L62.76 861.12L59.2 866.3L55.69 871.4M285.8 679.82L279.9 688.55L274.16 697.07L268.57 705.38L263.11 713.49L257.78 721.42L252.58 729.16L247.5 736.74L242.54 744.15L237.69 751.41L232.94 758.52L228.29 765.48L223.74 772.3L219.29 779L214.92 785.56L210.64 792L206.44 798.32L202.32 804.53L198.28 810.63L194.31 816.62L190.41 822.51L186.59 828.3L182.83 833.99L179.13 839.59L175.5 845.1L171.93 850.52L168.41 855.86L164.96 861.12L161.55 866.3L158.2 871.4M365.23 679.82L359.55 688.55L354.01 697.07L348.62 705.38L343.36 713.49L338.23 721.42L333.22 729.16L328.33 736.74L323.55 744.15L318.87 751.41L314.3 758.52L309.83 765.48L305.45 772.3L301.16 779L296.96 785.56L292.84 792L288.81 798.32L284.85 804.53L280.96 810.63L277.15 816.62L273.4 822.51L269.73 828.3L266.11 833.99L262.56 839.59L259.07 845.1L255.64 850.52L252.27 855.86L248.95 861.12L245.68 866.3L242.47 871.4M450.51 679.82L445.06 688.55L439.76 697.07L434.59 705.38L429.55 713.49L424.64 721.42L419.84 729.16L415.16 736.74L410.59 744.15L406.12 751.41L401.74 758.52L397.46 765.48L393.28 772.3L389.18 779L385.16 785.56L381.23 792L377.37 798.32L373.58 804.53L369.87 810.63L366.23 816.62L362.66 822.51L359.14 828.3L355.7 833.99L352.31 839.59L348.98 845.1L345.71 850.52L342.49 855.86L339.32 861.12L336.21 866.3L333.14 871.4M523.95 679.82L518.71 688.55L513.61 697.07L508.65 705.38L503.81 713.49L499.08 721.42L494.48 729.16L489.98 736.74L485.59 744.15L481.3 751.41L477.1 758.52L473 765.48L468.98 772.3L465.05 779L461.2 785.56L457.43 792L453.73 798.32L450.1 804.53L446.55 810.63L443.06 816.62L439.63 822.51L436.27 828.3L432.97 833.99L429.73 839.59L426.54 845.1L423.41 850.52L420.33 855.86L417.3 861.12L414.32 866.3L411.39 871.4M572.98 679.82L567.89 688.55L562.93 697.07L558.1 705.38L553.39 713.49L548.81 721.42L544.33 729.16L539.96 736.74L535.69 744.15L531.53 751.41L527.45 758.52L523.47 765.48L519.57 772.3L515.75 779L512.01 785.56L508.35 792L504.76 798.32L501.25 804.53L497.8 810.63L494.41 816.62L491.09 822.51L487.83 828.3L484.63 833.99L481.49 839.59L478.4 845.1L475.37 850.52L472.38 855.86L469.45 861.12L466.56 866.3L463.72 871.4M640.26 679.82L635.37 688.55L630.6 697.07L625.97 705.38L621.45 713.49L617.05 721.42L612.76 729.16L608.57 736.74L604.48 744.15L600.48 751.41L596.58 758.52L592.76 765.48L589.03 772.3L585.37 779L581.79 785.56L578.29 792L574.86 798.32L571.49 804.53L568.19 810.63L564.96 816.62L561.78 822.51L558.67 828.3L555.61 833.99L552.6 839.59L549.65 845.1L546.76 850.52L543.91 855.86L541.11 861.12L538.35 866.3L535.64 871.4M700.66 679.82L695.95 688.55L691.37 697.07L686.92 705.38L682.58 713.49L678.34 721.42L674.22 729.16L670.2 736.74L666.27 744.15L662.43 751.41L658.68 758.52L655.02 765.48L651.44 772.3L647.93 779L644.5 785.56L641.14 792L637.85 798.32L634.63 804.53L631.47 810.63L628.37 816.62L625.33 822.51L622.35 828.3L619.42 833.99L616.54 839.59L613.72 845.1L610.95 850.52L608.22 855.86L605.55 861.12L602.91 866.3L600.33 871.4M744.74 679.82L740.17 688.55L735.73 697.07L731.4 705.38L727.19 713.49L723.09 721.42L719.09 729.16L715.19 736.74L711.38 744.15L707.67 751.41L704.03 758.52L700.49 765.48L697.02 772.3L693.62 779L690.3 785.56L687.05 792L683.87 798.32L680.75 804.53L677.69 810.63L674.69 816.62L671.75 822.51L668.87 828.3L666.04 833.99L663.26 839.59L660.53 845.1L657.86 850.52L655.22 855.86L652.64 861.12L650.1 866.3L647.6 871.4" stroke="#008000" stroke-opacity="0.8" stroke-dasharray="7.7 3.33" stroke-width="2.08"/>
<path d="M576.2 64.3L493.6 173.6L426.2 227.2L380 252.6L329 280.9L258.9 332.6L246.1 382.4L259.2 425.6L266.4 441L281.8 471.8L298.5 501.3L313.3 533.3L325.4 569.2L339.5 617.9L345.1 640L353.8 663.6L364.1 696.9L371.3 723.8L379.5 737.9L387.2 752.1L389.8 760L390.9 764.8L388.5 771.8L383.4 778.2L374.9 785.6L371.5 792.1L372.2 797.4L375.9 802.7L383.4 809.1L405.9 828.9L403.2 831" stroke="#ff0000" stroke-width="2.08" stroke-linejoin="round"/>
<path d="M337.4 64.3L174.6 225.4L179.7 249.7L185.6 280.5L186.7 300L187.5 330L191.5 382.5L185.6 400L176.7 426.4L180 446.2L184.4 466.2L202.3 500L227.2 533.3L263.3 563.3L297.2 589.2L321 611.5L328.7 632L330.3 650.8L334.6 671.3L339.7 686.7L341.8 701.5L331.5 714.9L291 736.7L275.6 748.7L270.5 757.2L253.3 765.6L215.4 773.3L208.5 780L251.3 785.4L320.5 792.3L346 797.4L353.3 802.7L350.3 811.3L346.6 819.8L346 825.2L348.7 828.9L358 831.4" stroke="#008000" stroke-width="2.08" stroke-linejoin="round"/>
<path d="M403.2 831L370.1 803.3L367.22 797.09L364.25 790.88L361.2 784.67L358.06 778.46L354.83 772.25L351.51 766.04L348.1 759.83L344.6 753.62L341.01 747.41L337.34 741.2L333.58 734.99L329.73 728.78L325.79 722.57L321.78 716.36L317.68 710.15L313.5 703.94L309.24 697.73L304.91 691.52L300.51 685.31L296.03 679.1L291.5 672.89L286.9 666.68L282.25 660.47L277.54 654.26L272.78 648.05L267.98 641.84L263.14 635.63L258.26 629.42L253.36 623.21L248.42 617L243.46 610.79L238.49 604.58L233.5 598.37L228.51 592.16L223.51 585.95L218.5 579.74L213.51 573.53L208.52 567.32L203.54 561.11L198.57 554.9L193.62 548.69L188.69 542.48L183.79 536.27L178.91 530.06L174.06 523.85L169.24 517.64L164.45 511.43L159.69 505.22L154.98 499.01L150.3 492.8L145.66 486.59L141.06 480.38L136.51 474.17L131.99 467.96L127.53 461.75L123.1 455.54L118.72 449.33L114.39 443.12L110.11 436.91L105.87 430.69L101.68 424.48L97.54 418.27L93.45 412.06L89.41 405.85L85.42 399.64L81.47 393.43L77.58 387.22L73.73 381.01L69.94 374.8L66.19 368.59L62.5 362.38L58.85 356.17L55.25 349.96L51.7 343.75L48.2 337.54L44.75 331.33L41.35 325.12L38 318.91L34.69 312.7L31.44 306.49L28.23 300.28L25.07 294.07L21.96 287.86L18.89 281.65L15.88 275.44L12.91 269.23L9.99 263.02L7.11 256.81L4.28 250.6L1.5 244.39L-1.24 238.18L-3.93 231.97L-6.57 225.76L-9.17 219.55L-11.73 213.34L-14.24 207.13L-16.7 200.92L-19.12 194.71L-21.5 188.5L-23.83 182.29L-26.12 176.08L-28.36 169.87L-30.56 163.66L-32.72 157.45L-34.83 151.24L-36.9 145.03L-38.93 138.82L-40.92 132.61L-42.86 126.4L-44.76 120.19L-46.62 113.98L-48.44 107.77L-50.22 101.56L-51.95 95.35L-53.65 89.14L-55.31 82.93L-56.92 76.72L-58.49 70.51L-60.03 64.3" stroke="#00224d" stroke-width="0.7"/>
<path d="M350.1 805.9H392" stroke="#ffa500" stroke-width="4.0"/>
</g>
<g stroke="#00224d" stroke-width="1.1" fill="none">
<path d="M75.5 64.3V871.4H615"/>
<path d="M75.5 64.3h-4.86"/>
<path d="M75.5 302.41h-4.86"/>
<path d="M75.5 441.7h-4.86"/>
<path d="M75.5 540.53h-4.86"/>
<path d="M75.5 617.19h-4.86"/>
<path d="M75.5 679.82h-4.86"/>
<path d="M75.5 732.77h-4.86"/>
<path d="M75.5 778.64h-4.86"/>
<path d="M75.5 819.11h-4.86"/>
<path d="M75.5 855.3h-4.86"/>
<path d="M124.55 871.4v4.86"/>
<path d="M222.64 871.4v4.86"/>
<path d="M320.73 871.4v4.86"/>
<path d="M418.82 871.4v4.86"/>
<path d="M516.91 871.4v4.86"/>
<path d="M615 871.4v4.86"/>
</g>
<g font-size="13.89">
<text x="65.3" y="70.3" text-anchor="end">100</text>
<text x="65.3" y="308.41" text-anchor="end">200</text>
<text x="65.3" y="447.7" text-anchor="end">300</text>
<text x="65.3" y="546.53" text-anchor="end">400</text>
<text x="65.3" y="623.19" text-anchor="end">500</text>
<text x="65.3" y="685.82" text-anchor="end">600</text>
<text x="65.3" y="738.77" text-anchor="end">700</text>
<text x="65.3" y="784.64" text-anchor="end">800</text>
<text x="65.3" y="825.11" text-anchor="end">900</text>
<text x="65.3" y="861.3" text-anchor="end">1000</text>
<text x="124.55" y="891.6" text-anchor="middle">−20</text>
<text x="222.64" y="891.6" text-anchor="middle">−10</text>
<text x="320.73" y="891.6" text-anchor="middle">0</text>
<text x="418.82" y="891.6" text-anchor="middle">10</text>
<text x="516.91" y="891.6" text-anchor="middle">20</text>
<text x="615" y="891.6" text-anchor="middle">30</text>
<text x="344.8" y="911.8" text-anchor="middle">Temperature (℃)</text>
<text transform="translate(20.3 468.8) rotate(-90)" text-anchor="middle">Isobaric Height (hPa)</text>
<text x="270.4" y="834.9" text-anchor="middle">Sun-MDT</text>
<text x="182.6" y="86.3" text-anchor="end">LCL Height:</text><text x="186.9" y="86.3">1292.0 m</text>
<text x="182.6" y="104.24" text-anchor="end">LFC Height:</text><text x="186.9" y="104.24">nan m</text>
<text x="182.6" y="122.18" text-anchor="end">MLLR:</text><text x="186.9" y="122.18">6.1 K</text>
<text x="182.6" y="140.12" text-anchor="end">SBCAPE:</text><text x="186.9" y="140.12">0.0 J/kg</text>
<text x="182.6" y="158.06" text-anchor="end">SBCIN:</text><text x="186.9" y="158.06">0.0 J/kg</text>
<text x="182.6" y="176" text-anchor="end">MLCAPE:</text><text x="186.9" y="176">0.0 J/kg</text>
<text x="182.6" y="193.94" text-anchor="end">MLCIN:</text><text x="186.9" y="193.94">0.0 J/kg</text>
<text x="182.6" y="211.88" text-anchor="end">MUCAPE:</text><text x="186.9" y="211.88">0.0 J/kg</text>
<text x="182.6" y="229.82" text-anchor="end">Shear 0-1 km:</text><text x="186.9" y="229.82">6.3 m/s</text>
<text x="182.6" y="247.76" text-anchor="end">Shear 0-6 km:</text><text x="186.9" y="247.76">34.9 m/s</text>
<text x="182.6" y="265.7" text-anchor="end">SRH 0-1 km:</text><text x="186.9" y="265.7">-84.0 m²/s²</text>
<text x="182.6" y="283.64" text-anchor="end">SRH 0-3 km:</text><text x="186.9" y="283.64">-193.0 m²/s²</text>
</g>
<text x="435.2" y="20.8" font-size="25" text-anchor="middle">Lemmon Airport, SD; Model Run 2026-04-05 12 UTC; WRF Domain 02</text>
<text x="344.8" y="55.4" font-size="20.83" text-anchor="middle" xml:space="preserve">2026-04-06 01 UTC  (2026-04-05 19 MDT)</text>
<circle cx="269.9" cy="871.4" r="22.2" fill="#00224d" stroke="#c0c4cc" stroke-width="0.9"/>
<path d="M269.9 849.6V871.4L262.8 883.7" stroke="#fff" stroke-width="1.4" fill="none"/>
<path d="M615.1 67.4L583.46 54.87M615.1 120.7L583.1 109.12M595.1 113.46L595.42 106.34M615.1 174.1L584.36 159.5M595.89 164.98L596.89 157.92M615.1 227.1L585.22 210.81M596.43 216.92L599.21 202.93M600.16 218.96L601.55 211.96M615.1 280.4L585.57 263.49M596.64 269.83L599.72 255.9M600.33 271.94L603.41 258.02M604.03 274.06L607.1 260.13M615.1 333L586.53 314.52M597.24 321.45L601.06 307.71M600.81 323.76L604.64 310.02M604.39 326.07L608.21 312.33M607.96 328.38L611.78 314.64M615.1 382.3L587.05 363.03M597.57 370.25L601.78 356.63M601.08 372.66L605.28 359.04M604.58 375.07L608.79 361.44M608.09 377.48L612.29 363.85M611.59 379.89L613.7 373.08M615.1 426.3L586.99 407.12M597.53 414.31L601.69 400.67M601.04 416.71L605.2 403.07M604.56 419.11L608.71 405.47M608.07 421.51L610.15 414.68M615.1 466.1L586.82 447.17M597.43 454.27L601.46 440.59M600.96 456.63L605 442.96M604.5 459L608.53 445.32M615.1 501.2L586.69 482.47M597.34 489.49L601.29 475.79M600.9 491.83L604.84 478.13M604.45 494.18L606.42 487.32M615.1 533.2L586.69 514.47M597.34 521.49L601.29 507.79M600.9 523.83L604.84 510.13M604.45 526.18L606.42 519.32M615.1 562.1L586.34 543.92M597.12 550.73L600.8 536.96M600.72 553.01L604.4 539.23M615.1 588.2L585.75 570.98M596.76 577.44L599.97 563.54M600.42 579.59L602.03 572.64M615.1 612.2L585.63 595.19M596.68 601.57L599.8 587.65M615.1 653L586.62 634.37M615.1 686.6L586.85 667.62M586.85 667.62L590.92 653.95M590.39 669.99L594.45 656.32M593.92 672.36L597.98 658.69M597.45 674.74L601.51 661.07M600.98 677.11L603.01 670.27M615.1 714.4L587.71 694.21M587.71 694.21L592.36 680.73M591.13 696.73L595.79 683.25M594.56 699.25L599.21 685.77M597.98 701.78L600.31 695.04M615.1 738L587.85 717.62M587.85 717.62L592.6 704.17M591.26 720.16L596.01 706.72M594.66 722.71L599.41 709.26M615.1 756L589.42 733.67M589.42 733.67L595.14 720.61M592.63 736.47L598.35 723.4M595.84 739.26L601.56 726.19M615.1 772.7L595.29 745.03M595.29 745.03L603.88 733.65M597.77 748.49L606.36 737.11M600.24 751.95L608.83 740.57M615.1 784.5L601.97 753.11M601.97 753.11L612.88 743.93M603.61 757.03L614.53 747.85M615.1 798L608.02 764.71M608.02 764.71L620.45 757.72M615.1 807.7L615.1 773.67M615.1 773.67L628.71 769.42M615.1 816.3L618.66 782.46M618.66 782.46L632.64 779.65M618.21 786.69L625.2 785.28M615.1 823.1L621.3 789.64M621.3 789.64L635.46 787.94M620.53 793.82L627.61 792.97M615.1 827.9L624.48 795.19M624.48 795.19L638.74 794.85M623.31 799.28L630.44 799.11M615.1 831.5L627.13 799.67M627.13 799.67L641.37 800.5" stroke="#00224d" stroke-width="1.75" fill="none" stroke-linejoin="miter"/>
<path d="M582.59 55.44L592.76 42.95L591.61 59.02ZM582.25 109.71L592.04 96.92L591.38 113.02ZM583.45 160.01L594.43 148.22L592.22 164.18ZM584.29 211.27L595.9 200.11L592.81 215.92ZM584.63 263.93L596.47 253.01L593.05 268.75ZM585.56 314.9L597.98 304.64L593.71 320.18ZM586.08 363.39L598.78 353.47L594.08 368.88ZM586.01 407.49L598.68 397.53L594.03 412.96ZM585.85 447.54L598.43 437.48L593.92 452.94ZM585.72 482.85L598.23 472.69L593.83 488.19ZM585.72 514.85L598.23 504.69L593.83 520.19ZM585.37 544.31L597.69 533.92L593.58 549.5ZM584.8 571.41L596.76 560.62L593.17 576.32ZM584.68 595.62L596.57 584.74L593.09 600.47ZM585.66 634.75L598.13 624.55L593.78 640.06Z" stroke="none" fill="#00224d"/>
<g clip-path="url(#ch)" fill="none">
<circle cx="795.15" cy="177" r="23.61" stroke="#808080" stroke-width="1.39" stroke-dasharray="5.14 2.22"/>
<circle cx="795.15" cy="177" r="47.22" stroke="#808080" stroke-width="1.39" stroke-dasharray="5.14 2.22"/>
<circle cx="795.15" cy="177" r="70.83" stroke="#808080" stroke-width="1.39" stroke-dasharray="5.14 2.22"/>
<circle cx="795.15" cy="177" r="94.44" stroke="#808080" stroke-width="1.39" stroke-dasharray="5.14 2.22"/>
<circle cx="795.15" cy="177" r="118.05" stroke="#808080" stroke-width="1.39" stroke-dasharray="5.14 2.22"/>
<path d="M700.7 177H889.6M795.15 271.45V82.55" stroke="#808080" stroke-width="2.08" stroke-dasharray="7.7 3.33"/>
<path d="M791.13 187.54L791.13 188.56" stroke="#000080" stroke-width="3.8" stroke-linecap="square"/>
<path d="M791.13 188.56L789.72 190.61" stroke="#000089" stroke-width="3.8" stroke-linecap="square"/>
<path d="M789.72 190.61L790.23 192.14" stroke="#000096" stroke-width="3.8" stroke-linecap="square"/>
<path d="M790.23 192.14L792.79 192.14" stroke="#0000a8" stroke-width="3.8" stroke-linecap="square"/>
<path d="M792.79 192.14L795.99 190.86" stroke="#0000bb" stroke-width="3.8" stroke-linecap="square"/>
<path d="M795.99 190.86L799.19 192.27" stroke="#0000cd" stroke-width="3.8" stroke-linecap="square"/>
<path d="M799.19 192.27L801.75 195.47" stroke="#0000e8" stroke-width="3.8" stroke-linecap="square"/>
<path d="M801.75 195.47L803.35 197.71" stroke="#0000f6" stroke-width="3.8" stroke-linecap="square"/>
<path d="M803.35 197.71L804.95 199.95" stroke="#0000fa" stroke-width="3.8" stroke-linecap="square"/>
<path d="M804.95 199.95L808.78 203.14" stroke="#0000ff" stroke-width="3.8" stroke-linecap="square"/>
<path d="M808.78 203.14L813.26 204.68" stroke="#0000ff" stroke-width="3.8" stroke-linecap="square"/>
<path d="M813.26 204.68L817.1 203.78" stroke="#0004ff" stroke-width="3.8" stroke-linecap="square"/>
<path d="M817.1 203.78L820.3 200.59" stroke="#0014ff" stroke-width="3.8" stroke-linecap="square"/>
<path d="M820.3 200.59L822.86 198.28" stroke="#0028ff" stroke-width="3.8" stroke-linecap="square"/>
<path d="M822.86 198.28L826.05 199.95" stroke="#0040ff" stroke-width="3.8" stroke-linecap="square"/>
<path d="M826.05 199.95L828.61 201.54" stroke="#0054ff" stroke-width="3.8" stroke-linecap="square"/>
<path d="M828.61 201.54L831.17 203.14" stroke="#0068ff" stroke-width="3.8" stroke-linecap="square"/>
<path d="M831.17 203.14L833.73 204.74" stroke="#0084ff" stroke-width="3.8" stroke-linecap="square"/>
<path d="M833.73 204.74L836.29 206.34" stroke="#00a0ff" stroke-width="3.8" stroke-linecap="square"/>
<path d="M836.29 206.34L838.85 207.94" stroke="#00c4ff" stroke-width="3.8" stroke-linecap="square"/>
<path d="M838.85 207.94L841.4 209.54" stroke="#02e8f4" stroke-width="3.8" stroke-linecap="square"/>
<path d="M841.4 209.54L843.96 210.5" stroke="#19ffde" stroke-width="3.8" stroke-linecap="square"/>
<path d="M843.96 210.5L846.52 211.46" stroke="#30ffc7" stroke-width="3.8" stroke-linecap="square"/>
<path d="M846.52 211.46L851.64 212.1" stroke="#46ffb1" stroke-width="3.8" stroke-linecap="square"/>
<path d="M851.64 212.1L854.2 212.74" stroke="#5aff9d" stroke-width="3.8" stroke-linecap="square"/>
<path d="M854.2 212.74L856.76 213.38" stroke="#6aff8d" stroke-width="3.8" stroke-linecap="square"/>
<path d="M856.76 213.38L860.59 215.94" stroke="#80ff77" stroke-width="3.8" stroke-linecap="square"/>
<path d="M860.59 215.94L863.79 219.77" stroke="#9dff5a" stroke-width="3.8" stroke-linecap="square"/>
<path d="M863.79 219.77L865.39 222.01" stroke="#b4ff43" stroke-width="3.8" stroke-linecap="square"/>
<path d="M865.39 222.01L866.99 224.25" stroke="#c7ff30" stroke-width="3.8" stroke-linecap="square"/>
<path d="M866.99 224.25L870.19 227.45" stroke="#e7ff0f" stroke-width="3.8" stroke-linecap="square"/>
<path d="M870.19 227.45L874.67 229.37" stroke="#ffd000" stroke-width="3.8" stroke-linecap="square"/>
<path d="M874.67 229.37L878.5 231.93" stroke="#ff9400" stroke-width="3.8" stroke-linecap="square"/>
<path d="M878.5 231.93L880.42 233.85" stroke="#ff6c00" stroke-width="3.8" stroke-linecap="square"/>
<path d="M880.42 233.85L882.34 235.76" stroke="#ff4e00" stroke-width="3.8" stroke-linecap="square"/>
<path d="M882.34 235.76L886.18 238.96" stroke="#ff2900" stroke-width="3.8" stroke-linecap="square"/>
<path d="M886.18 238.96L889.5 241.65" stroke="#e80000" stroke-width="3.8" stroke-linecap="square"/>
<rect x="700.7" y="268.6" width="68.8" height="4" fill="#00224d"/>
</g>
<g stroke="#00224d" stroke-width="1.1" fill="none">
<path d="M700.7 82.55V271.45H889.6"/>
<path d="M700.7 271.44h-4.86"/>
<path d="M700.71 271.45v4.86"/>
<path d="M700.7 224.22h-4.86"/>
<path d="M747.93 271.45v4.86"/>
<path d="M700.7 177h-4.86"/>
<path d="M795.15 271.45v4.86"/>
<path d="M700.7 129.78h-4.86"/>
<path d="M842.37 271.45v4.86"/>
<path d="M700.7 82.56h-4.86"/>
<path d="M889.59 271.45v4.86"/>
</g>
<g font-size="13.89">
<text x="690.6" y="277.44" text-anchor="end">−40</text>
<text x="700.71" y="291.5" text-anchor="middle">−40</text>
<text x="690.6" y="230.22" text-anchor="end">−20</text>
<text x="747.93" y="291.5" text-anchor="middle">−20</text>
<text x="690.6" y="183" text-anchor="end">0</text>
<text x="795.15" y="291.5" text-anchor="middle">0</text>
<text x="690.6" y="135.78" text-anchor="end">20</text>
<text x="842.37" y="291.5" text-anchor="middle">20</text>
<text x="690.6" y="88.56" text-anchor="end">40</text>
<text x="889.59" y="291.5" text-anchor="middle">40</text>
<text x="795.2" y="306.9" text-anchor="middle">u (m s<tspan font-size="9.72" dy="-5">−1</tspan><tspan dy="5">)</tspan></text>
<text transform="translate(657.4 177.2) rotate(-90)" text-anchor="middle">v (m s<tspan font-size="9.72" dy="-5">−1</tspan><tspan dy="5">)</tspan></text>
<rect x="660.2" y="312.1" width="270.6" height="12.9" fill="url(#jet)" stroke="#00224d" stroke-width="1.1"/>
<path d="M660.4 325v4.86" stroke="#00224d" stroke-width="1.1"/>
<text x="660.4" y="345.6" text-anchor="middle">0</text>
<path d="M714.5 325v4.86" stroke="#00224d" stroke-width="1.1"/>
<text x="714.5" y="345.6" text-anchor="middle">2</text>
<path d="M768.6 325v4.86" stroke="#00224d" stroke-width="1.1"/>
<text x="768.6" y="345.6" text-anchor="middle">4</text>
<path d="M822.7 325v4.86" stroke="#00224d" stroke-width="1.1"/>
<text x="822.7" y="345.6" text-anchor="middle">6</text>
<path d="M876.8 325v4.86" stroke="#00224d" stroke-width="1.1"/>
<text x="876.8" y="345.6" text-anchor="middle">8</text>
<path d="M930.9 325v4.86" stroke="#00224d" stroke-width="1.1"/>
<text x="930.9" y="345.6" text-anchor="middle">10</text>
<text x="795.5" y="365.4" text-anchor="middle">Height (km AGL)</text>
</g>
</svg>
</body></html>
